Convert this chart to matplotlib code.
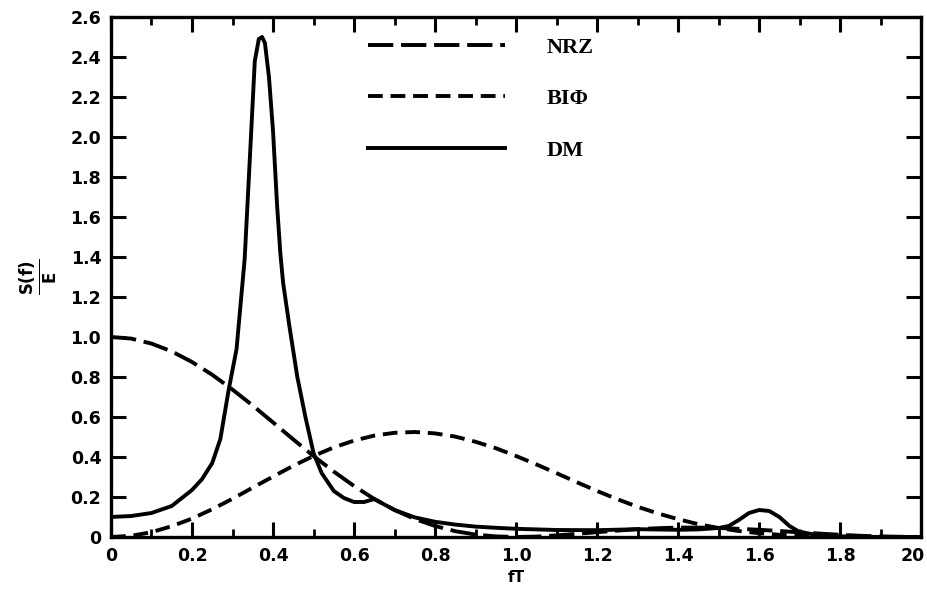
#!/usr/bin/env python3
"""Power spectral density of NRZ, BI-phase and delay modulation (Miller) codes
"""

import matplotlib
matplotlib.use("Agg")
import matplotlib.pyplot as plt
from matplotlib.ticker import MultipleLocator
from matplotlib.transforms import ScaledTranslation
from matplotlib import rcParams
rcParams['xtick.direction'] = 'in'
rcParams['ytick.direction'] = 'in'
rcParams['font.family'] = ['DejaVu Sans']
rcParams['font.weight'] = 'bold'


#--- data
#
# NRZ
nrz_f = [0.0, 0.05, 0.1, 0.15, 0.2, 0.25, 0.3, 0.35, 0.4, 0.45, 0.5, 0.55,
         0.6, 0.65, 0.7, 0.75, 0.8, 0.85, 0.9, 0.95, 1.0, 1.05, 1.1, 1.15,
         1.2, 1.25, 1.3, 1.35, 1.4, 1.45, 1.5, 1.55, 1.6, 1.65, 1.7, 1.75,
         1.8, 1.85, 1.9, 1.95, 2.0]
nrz_s = [1.0, 0.992, 0.967, 0.928, 0.875, 0.811, 0.737, 0.657, 0.573, 0.488,
         0.405, 0.327, 0.255, 0.190, 0.135, 0.090, 0.055, 0.029, 0.012, 0.003,
         0.0, 0.002, 0.008, 0.016, 0.024, 0.032, 0.039, 0.044, 0.047, 0.047,
         0.045, 0.041, 0.036, 0.030, 0.023, 0.017, 0.011, 0.006, 0.003, 0.001,
         0.0]

# BI-phase
bip_f = nrz_f
bip_s = [0.0, 0.006, 0.024, 0.054, 0.092, 0.139, 0.191, 0.247, 0.302, 0.356,
         0.405, 0.448, 0.482, 0.507, 0.521, 0.525, 0.518, 0.502, 0.476, 0.444,
         0.405, 0.363, 0.319, 0.274, 0.230, 0.189, 0.151, 0.118, 0.089, 0.064,
         0.045, 0.030, 0.019, 0.011, 0.006, 0.003, 0.001, 0.0, 0.0, 0.0, 0.0]

# delay modulation (Miller)
dm_f = [0.0, 0.05, 0.1, 0.15, 0.2, 0.225, 0.25, 0.27, 0.29, 0.31, 0.33,
        0.345, 0.355, 0.365, 0.373, 0.38, 0.39, 0.40, 0.41, 0.418, 0.425,
        0.44, 0.46, 0.48, 0.5, 0.52, 0.55, 0.575, 0.6, 0.625, 0.65, 0.7,
        0.75, 0.8, 0.85, 0.9, 0.95, 1.0, 1.1, 1.2, 1.3, 1.4, 1.45, 1.5,
        1.525, 1.55, 1.575, 1.6, 1.625, 1.65, 1.675, 1.7, 1.75, 1.8, 1.9,
        2.0]
dm_s = [0.10, 0.105, 0.12, 0.155, 0.235, 0.29, 0.37, 0.49, 0.73, 0.94, 1.39,
        1.98, 2.38, 2.49, 2.50, 2.47, 2.30, 2.03, 1.66, 1.42, 1.27,
        1.06, 0.80, 0.60, 0.42, 0.32, 0.23, 0.195, 0.175, 0.175, 0.19, 0.135,
        0.098, 0.076, 0.062, 0.052, 0.046, 0.041, 0.035, 0.034, 0.039, 0.036,
        0.038, 0.045, 0.055, 0.085, 0.12, 0.135, 0.13, 0.10, 0.055, 0.025,
        0.008, 0.003, 0.0, 0.0]

xticks = [0.0, 0.2, 0.4, 0.6, 0.8, 1.0, 1.2, 1.4, 1.6, 1.8, 2.0]
xticklabels = ["0", "0.2", "0.4", "0.6", "0.8", "1.0", "1.2", "1.4", "1.6",
               "1.8", "20"]
yticks = [0.0, 0.2, 0.4, 0.6, 0.8, 1.0, 1.2, 1.4, 1.6, 1.8, 2.0, 2.2, 2.4,
          2.6]
yticklabels = ["0", "0.2", "0.4", "0.6", "0.8", "1.0", "1.2", "1.4", "1.6",
               "1.8", "2.0", "2.2", "2.4", "2.6"]


def plot(plot_fn):
    """draws the three spectra"""
    fig = plt.figure(figsize=(9.28, 5.96), dpi=100)
    ax = fig.add_axes([0.1196, 0.099, 0.873, 0.8725])

    lw = 2.8
    l_nrz, = ax.plot(nrz_f, nrz_s, color='black', lw=lw, label="NRZ",
                     dashes=(6.5, 2.0))
    l_bip, = ax.plot(bip_f, bip_s, color='black', lw=lw, label="BIΦ",
                     dashes=(3.8, 2.0))
    l_dm, = ax.plot(dm_f, dm_s, color='black', lw=lw, label="DM")

    ax.set_xlim(0, 2.0)
    ax.set_ylim(0, 2.6)

    ax.set_xticks(xticks)
    ax.set_xticklabels(xticklabels)
    ax.xaxis.set_minor_locator(MultipleLocator(0.1))
    ax.set_yticks(yticks)
    ax.set_yticklabels(yticklabels)

    ax.tick_params(which='major', length=11, width=2.2, labelsize=12.5,
                   top=True, right=True, pad=7)
    ax.tick_params(axis='x', which='minor', length=5.5, width=2.0, top=True)
    for sp in ax.spines.values():
        sp.set_linewidth(2.4)

    # last label ("20") sits a bit left of the corner so it stays on the page
    lbl = ax.get_xticklabels()[-1]
    lbl.set_transform(lbl.get_transform() +
                      ScaledTranslation(-6 / 72, 0, fig.dpi_scale_trans))

    ax.set_xlabel('fT', size=11, weight='bold', labelpad=4)
    ax.set_ylabel(r'$\mathbf{\frac{S(f)}{E}}$', size=17, labelpad=8)

    ax.legend([l_nrz, l_bip, l_dm], ["NRZ", "BIΦ", "DM"],
              loc='upper left', bbox_to_anchor=(0.292, 1.0),
              frameon=False, handlelength=6.2, handletextpad=1.85,
              labelspacing=1.4,
              prop={'family': 'Liberation Serif', 'weight': 'bold',
                    'size': 16})

    fig.savefig(plot_fn, dpi=100)


def main():
    """main function"""
    plot("out.png")


if __name__ == "__main__":
    main()
